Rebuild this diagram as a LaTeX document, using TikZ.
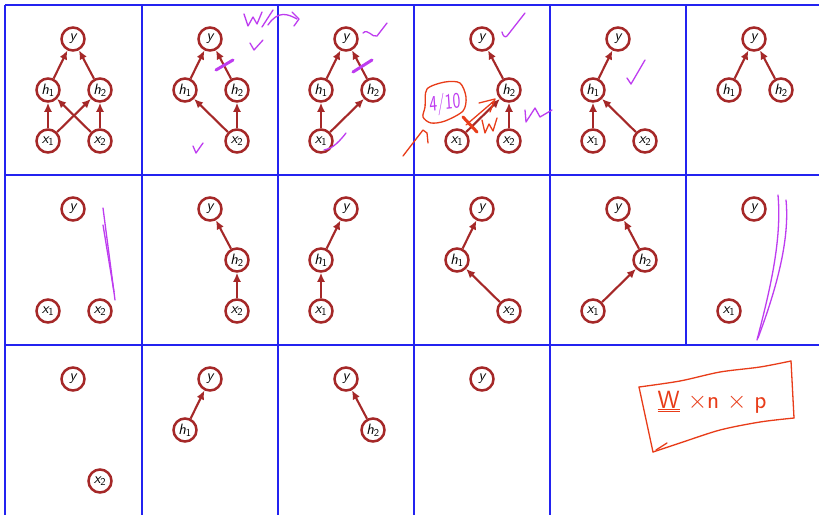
\documentclass[tikz,border=0pt]{standalone}
\usepackage{tikz}
\usetikzlibrary{arrows.meta}

\definecolor{nodered}{RGB}{165,40,40}
\definecolor{gridblue}{RGB}{35,35,240}
\definecolor{inkpurple}{RGB}{190,60,240}
\definecolor{inkred}{RGB}{232,60,25}

\newcommand{\hv}[1]{h\textsubscript{\upshape #1}}
\newcommand{\xv}[1]{x\textsubscript{\upshape #1}}

\begin{document}
\begin{tikzpicture}[
  x=1pt, y=-1pt,
  var/.style={circle, draw=nodered, line width=2.5pt, fill=white, minimum size=23pt,
    inner sep=0pt, font=\sffamily\itshape\fontsize{15}{15}\selectfont},
  edge/.style={-{Latex[length=9pt,width=8pt]}, line width=2.1pt, draw=nodered},
  grid/.style={draw=gridblue, line width=1.2pt},
  ink/.style={draw=inkpurple, line width=1.3pt, line cap=round, line join=round},
  redink/.style={draw=inkred, line width=1.3pt, line cap=round, line join=round}
]
\useasboundingbox[fill=white] (0,0) rectangle (819,515);

% cell grid
\draw[grid] (5,5) -- (819,5);
\draw[grid] (5,175) -- (819,175);
\draw[grid] (5,345) -- (819,345);
\foreach \gx in {5,142,278,414,550}
  \draw[grid] (\gx,5) -- (\gx,515);
\draw[grid] (686,5) -- (686,345);

% row 1
\begin{scope}[shift={(5,5)}]
\node[var] (a-y) at (68,34) {y};
\node[var] (a-h1) at (43,85) {\hv{1}};
\node[var] (a-h2) at (95,85) {\hv{2}};
\node[var] (a-x1) at (43,136) {\xv{1}};
\node[var] (a-x2) at (95,136) {\xv{2}};
\draw[edge] (a-h1) -- (a-y);
\draw[edge] (a-h2) -- (a-y);
\draw[edge] (a-x1) -- (a-h1);
\draw[edge] (a-x1) -- (a-h2);
\draw[edge] (a-x2) -- (a-h1);
\draw[edge] (a-x2) -- (a-h2);
\end{scope}

\begin{scope}[shift={(142,5)}]
\node[var] (b-y) at (68,34) {y};
\node[var] (b-h1) at (43,85) {\hv{1}};
\node[var] (b-h2) at (95,85) {\hv{2}};
\node[var] (b-x2) at (95,136) {\xv{2}};
\draw[edge] (b-h1) -- (b-y);
\draw[edge] (b-h2) -- (b-y);
\draw[edge] (b-x2) -- (b-h1);
\draw[edge] (b-x2) -- (b-h2);
\end{scope}

\begin{scope}[shift={(278,5)}]
\node[var] (c-y) at (68,34) {y};
\node[var] (c-h1) at (43,85) {\hv{1}};
\node[var] (c-h2) at (95,85) {\hv{2}};
\node[var] (c-x1) at (43,136) {\xv{1}};
\draw[edge] (c-h1) -- (c-y);
\draw[edge] (c-h2) -- (c-y);
\draw[edge] (c-x1) -- (c-h1);
\draw[edge] (c-x1) -- (c-h2);
\end{scope}

\begin{scope}[shift={(414,5)}]
\node[var] (d-y) at (68,34) {y};
\node[var] (d-h2) at (95,85) {\hv{2}};
\node[var] (d-x1) at (43,136) {\xv{1}};
\node[var] (d-x2) at (95,136) {\xv{2}};
\draw[edge] (d-h2) -- (d-y);
\draw[edge] (d-x1) -- (d-h2);
\draw[edge] (d-x2) -- (d-h2);
\end{scope}

\begin{scope}[shift={(550,5)}]
\node[var] (e-y) at (68,34) {y};
\node[var] (e-h1) at (43,85) {\hv{1}};
\node[var] (e-x1) at (43,136) {\xv{1}};
\node[var] (e-x2) at (95,136) {\xv{2}};
\draw[edge] (e-h1) -- (e-y);
\draw[edge] (e-x1) -- (e-h1);
\draw[edge] (e-x2) -- (e-h1);
\end{scope}

\begin{scope}[shift={(686,5)}]
\node[var] (f-y) at (68,34) {y};
\node[var] (f-h1) at (43,85) {\hv{1}};
\node[var] (f-h2) at (95,85) {\hv{2}};
\draw[edge] (f-h1) -- (f-y);
\draw[edge] (f-h2) -- (f-y);
\end{scope}

% row 2
\begin{scope}[shift={(5,175)}]
\node[var] (g-y) at (68,34) {y};
\node[var] (g-x1) at (43,136) {\xv{1}};
\node[var] (g-x2) at (95,136) {\xv{2}};
\end{scope}

\begin{scope}[shift={(142,175)}]
\node[var] (h-y) at (68,34) {y};
\node[var] (h-h2) at (95,85) {\hv{2}};
\node[var] (h-x2) at (95,136) {\xv{2}};
\draw[edge] (h-h2) -- (h-y);
\draw[edge] (h-x2) -- (h-h2);
\end{scope}

\begin{scope}[shift={(278,175)}]
\node[var] (i-y) at (68,34) {y};
\node[var] (i-h1) at (43,85) {\hv{1}};
\node[var] (i-x1) at (43,136) {\xv{1}};
\draw[edge] (i-h1) -- (i-y);
\draw[edge] (i-x1) -- (i-h1);
\end{scope}

\begin{scope}[shift={(414,175)}]
\node[var] (j-y) at (68,34) {y};
\node[var] (j-h1) at (43,85) {\hv{1}};
\node[var] (j-x2) at (95,136) {\xv{2}};
\draw[edge] (j-h1) -- (j-y);
\draw[edge] (j-x2) -- (j-h1);
\end{scope}

\begin{scope}[shift={(550,175)}]
\node[var] (k-y) at (68,34) {y};
\node[var] (k-h2) at (95,85) {\hv{2}};
\node[var] (k-x1) at (43,136) {\xv{1}};
\draw[edge] (k-h2) -- (k-y);
\draw[edge] (k-x1) -- (k-h2);
\end{scope}

\begin{scope}[shift={(686,175)}]
\node[var] (l-y) at (68,34) {y};
\node[var] (l-x1) at (43,136) {\xv{1}};
\end{scope}

% row 3
\begin{scope}[shift={(5,345)}]
\node[var] (m-y) at (68,34) {y};
\node[var] (m-x2) at (95,136) {\xv{2}};
\end{scope}

\begin{scope}[shift={(142,345)}]
\node[var] (n-y) at (68,34) {y};
\node[var] (n-h1) at (43,85) {\hv{1}};
\draw[edge] (n-h1) -- (n-y);
\end{scope}

\begin{scope}[shift={(278,345)}]
\node[var] (o-y) at (68,34) {y};
\node[var] (o-h2) at (95,85) {\hv{2}};
\draw[edge] (o-h2) -- (o-y);
\end{scope}

\begin{scope}[shift={(414,345)}]
\node[var] (p-y) at (68,34) {y};
\end{scope}

% purple ink
\draw[ink] (244,14) -- (248,26) -- (253,17) -- (257,24) -- (262,12);
\draw[ink] (262,27) -- (273,10);
\draw[ink] (268,25) .. controls (278,10) and (288,14) .. (297,19);
\draw[ink] (292,12) -- (299,19) -- (294,26);
\draw[ink] (250,43) -- (254,50) -- (263,40);
\draw[ink] (193,146) -- (196,153) -- (203,143);
\draw[ink, line width=3pt] (216,70) -- (233,60);
\draw[ink] (363,33) .. controls (368,28) and (372,38) .. (377,36) -- (387,23);
\draw[ink, line width=3pt] (353,72) -- (372,60);
\draw[ink] (324,150) .. controls (330,149) and (336,146) .. (346,133);
\draw[ink] (502,32) .. controls (503,36) and (505,38) .. (507,36) -- (525,13);
\draw[ink] (525,110) -- (526,122) -- (535,108) -- (540,117) -- (552,110);
\draw[ink] (627,78) -- (631,84) -- (645,60);
\draw[ink] (103,208) -- (115,300);
\draw[ink] (103,225) -- (114,292);
\draw[ink] (778,195) .. controls (782,240) and (770,290) .. (757,340);
\draw[ink] (786,200) .. controls (790,240) and (776,290) .. (758,338);
\node[text=inkpurple, font=\sffamily\fontsize{22}{22}\selectfont, xscale=0.75, rotate=5] (score) at (445,104) {4/10};

% red ink
\draw[redink] plot[smooth cycle] coordinates {(425,107) (427,89) (445,82) (460,83) (466,97) (463,111) (445,121) (431,123) (423,117)};
\draw[redink] (403,156) -- (423,130) -- (427,133) -- (428,143);
\draw[redink, line width=3pt] (463,117) -- (477,132);
\draw[redink] (466,125) -- (494,101);
\draw[redink] (479,103) -- (495,99) -- (490,112);
\draw[redink] (482,120) -- (485,133) -- (489,124) -- (493,131) -- (497,118);
\draw[redink] plot[smooth] coordinates {(639,387) (680,381) (720,372) (760,367) (791,361)};
\draw[redink] (791,361) -- (794,418);
\draw[redink] plot[smooth] coordinates {(794,418) (760,422) (720,430) (680,443) (653,452)};
\draw[redink] (653,452) -- (639,387);
\draw[redink] (656,450) -- (667,443);
\node[text=inkred, font=\sffamily\fontsize{25}{25}\selectfont] (cost) at (712,402)
  {$\underline{\underline{\mathsf{W}}}$ $\times$n $\times$ p};
\end{tikzpicture}
\end{document}
